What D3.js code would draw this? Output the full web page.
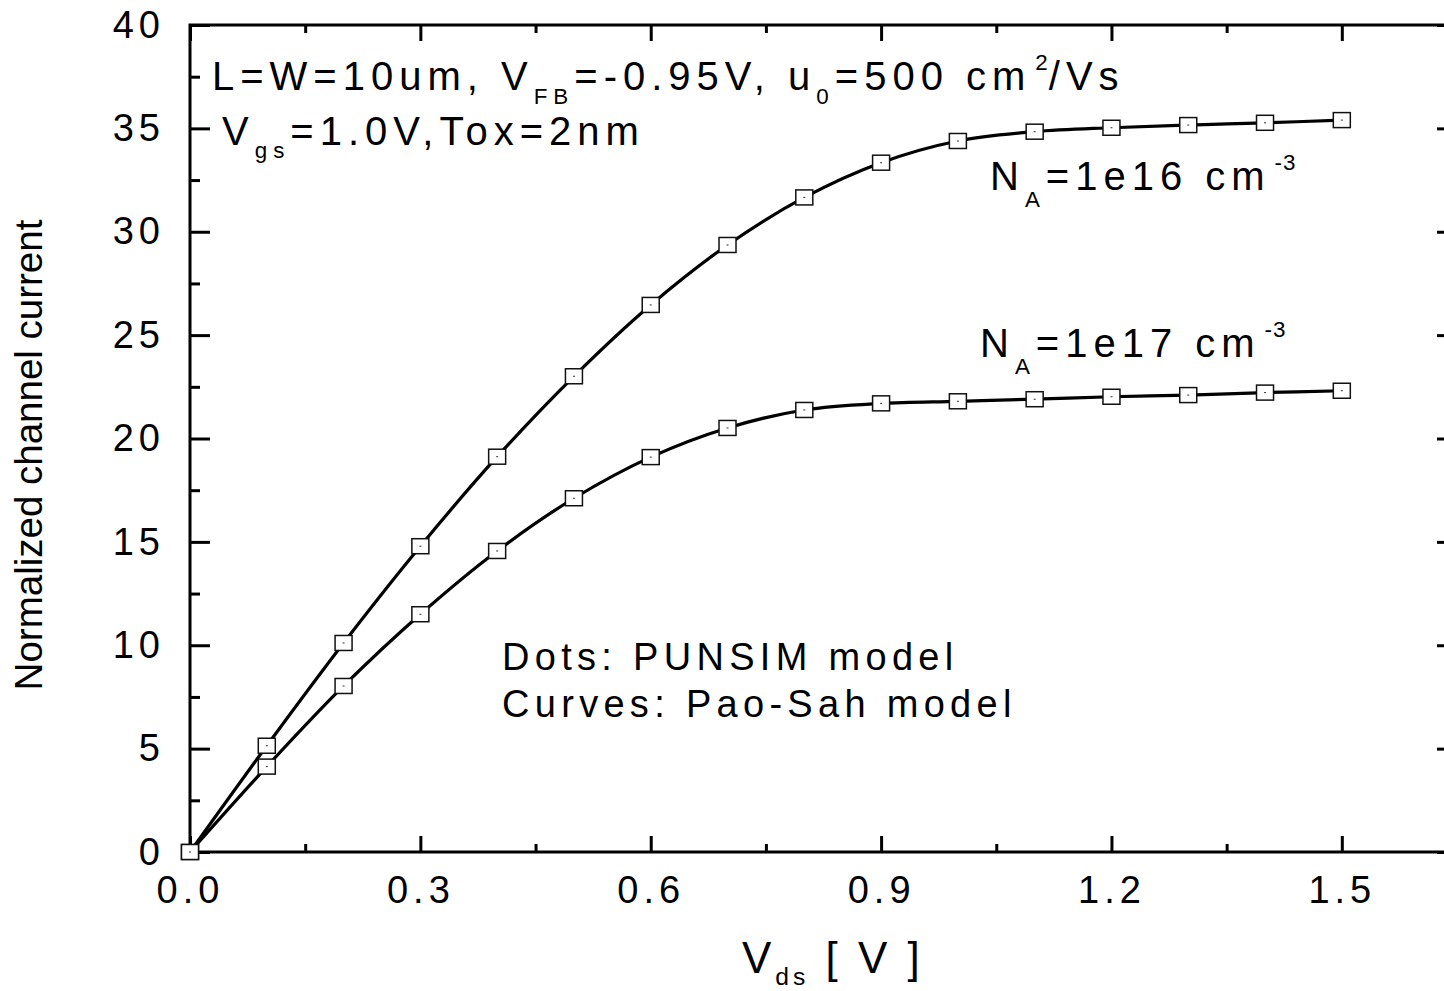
<!DOCTYPE html>
<html>
<head>
<meta charset="utf-8">
<script src="https://cdn.jsdelivr.net/npm/d3@7"></script>
<style>
  body { margin: 0; background: #fff; }
  svg { display: block; }
  text { font-family: "Liberation Sans", Arial, sans-serif; fill: #000; }
</style>
</head>
<body>
<svg id="svg" width="1444" height="991"></svg>
<script>
// data
let vds = [0, 0.1, 0.2, 0.3, 0.4, 0.5, 0.6, 0.7, 0.8, 0.9, 1.0, 1.1, 1.2, 1.3, 1.4, 1.5];
let na16 = [0, 5.14, 10.11, 14.79, 19.12, 23.01, 26.46, 29.36, 31.66, 33.34, 34.39, 34.84, 35.03, 35.16, 35.27, 35.4];
let na17 = [0, 4.13, 8.03, 11.5, 14.56, 17.11, 19.1, 20.51, 21.38, 21.7, 21.8, 21.9, 22.02, 22.1, 22.22, 22.31];
let xTicks = [0, 0.3, 0.6, 0.9, 1.2, 1.5];
let xMinor = [0.15, 0.45, 0.75, 1.05, 1.35, 1.65];
let yTicks = [0, 5, 10, 15, 20, 25, 30, 35, 40];
let yMinor = [2.5, 7.5, 12.5, 17.5, 22.5, 27.5, 32.5, 37.5];

let svg = d3.select("#svg");

let x = d3.scaleLinear().domain([0, 1.65]).range([190, 1457]);
let y = d3.scaleLinear().domain([0, 40]).range([852, 25]);

/* axes: ticks point inward */
function styleAxis(g) {
  g.select(".domain").remove();
  g.selectAll("line").attr("stroke", "#000").attr("stroke-width", 3);
  g.selectAll("text")
    .style("font-size", "38px")
    .style("letter-spacing", "5px")
    .attr("fill", "#000");
}

svg.append("g").attr("transform", "translate(0,852)")
  .call(d3.axisBottom(x).tickValues(xTicks).tickSize(-16).tickPadding(24).tickFormat(d3.format(".1f")))
  .call(styleAxis);
svg.append("g").attr("transform", "translate(0,852)")
  .call(d3.axisBottom(x).tickValues(xMinor).tickSize(-8).tickFormat(""))
  .call(styleAxis);
svg.append("g").attr("transform", "translate(0,25)")
  .call(d3.axisTop(x).tickValues(xTicks).tickSize(-16).tickFormat(""))
  .call(styleAxis);
svg.append("g").attr("transform", "translate(0,25)")
  .call(d3.axisTop(x).tickValues(xMinor).tickSize(-8).tickFormat(""))
  .call(styleAxis);

svg.append("g").attr("transform", "translate(190,0)")
  .call(d3.axisLeft(y).tickValues(yTicks).tickSize(-20).tickPadding(25))
  .call(styleAxis);
svg.append("g").attr("transform", "translate(190,0)")
  .call(d3.axisLeft(y).tickValues(yMinor).tickSize(-10).tickFormat(""))
  .call(styleAxis);
svg.append("g").attr("transform", "translate(1457,0)")
  .call(d3.axisRight(y).tickValues(yTicks).tickSize(-20).tickFormat(""))
  .call(styleAxis);
svg.append("g").attr("transform", "translate(1457,0)")
  .call(d3.axisRight(y).tickValues(yMinor).tickSize(-10).tickFormat(""))
  .call(styleAxis);

/* frame */
svg.append("rect")
  .attr("x", x(0)).attr("y", y(40))
  .attr("width", x(1.65) - x(0)).attr("height", y(0) - y(40))
  .attr("fill", "none").attr("stroke", "#000").attr("stroke-width", 3);

/* curves */
let line = d3.line()
  .x((d, i) => x(vds[i]))
  .y(d => y(d))
  .curve(d3.curveCatmullRom);

[na16, na17].forEach(s => {
  svg.append("path")
    .attr("d", line(s))
    .attr("fill", "none")
    .attr("stroke", "#000")
    .attr("stroke-width", 3.2);
});

/* square markers */
[na16, na17].forEach(s => {
  let g = svg.append("g");
  s.forEach((d, i) => {
    g.append("rect")
      .attr("x", x(vds[i]) - 8.5).attr("y", y(d) - 7.5)
      .attr("width", 17).attr("height", 15)
      .attr("fill", "#fff").attr("stroke", "#111").attr("stroke-width", 1.5);
    g.append("rect")
      .attr("x", x(vds[i]) - 1).attr("y", y(d) - 0.5)
      .attr("width", 2).attr("height", 1)
      .attr("fill", "#333");
  });
});

/* text helpers: [text, shift] where shift is "sub", "sup" or normal */
function richText(px, py, size, parts, spacing, subOff) {
  let t = svg.append("text")
    .attr("x", px).attr("y", py)
    .style("font-size", size + "px")
    .style("letter-spacing", spacing + "px");
  let cur = 0;
  parts.forEach(p => {
    let off = p[1] === "sub" ? subOff : p[1] === "sup" ? -20 : 0;
    let ts = t.append("tspan")
      .attr("dy", off - cur)
      .style("font-size", p[1] ? (size * 0.56) + "px" : size + "px")
      .text(p[0]);
    if (p[1] === "sup") ts.attr("dx", 4).style("letter-spacing", "1px");
    cur = off;
  });
  return t;
}

richText(212, 90, 40, [["L=W=10um, V"], ["FB", "sub"], ["=-0.95V, u"], ["0", "sub"], ["=500 cm"], ["2", "sup"], ["/Vs"]], 6, 14);
richText(222, 145, 40, [["V"], ["gs", "sub"], ["=1.0V,Tox=2nm"]], 6, 13);
richText(990, 190, 40, [["N"], ["A", "sub"], ["=1e16 cm"], ["-3", "sup"]], 6, 17);
richText(980, 357, 40, [["N"], ["A", "sub"], ["=1e17 cm"], ["-3", "sup"]], 6, 17);

svg.append("text").attr("x", 502).attr("y", 670)
  .style("font-size", "38px").style("letter-spacing", "5.3px")
  .text("Dots:  PUNSIM model");
svg.append("text").attr("x", 502).attr("y", 717)
  .style("font-size", "38px").style("letter-spacing", "5.3px")
  .text("Curves:  Pao-Sah model");

/* axis titles */
richText(742, 973, 44, [["V"], ["ds", "sub"], [" [ V ]"]], 4, 12);

svg.append("text")
  .attr("transform", "translate(42,455) rotate(-90)")
  .attr("text-anchor", "middle")
  .style("font-size", "38.5px")
  .text("Normalized channel current");
</script>
</body>
</html>
